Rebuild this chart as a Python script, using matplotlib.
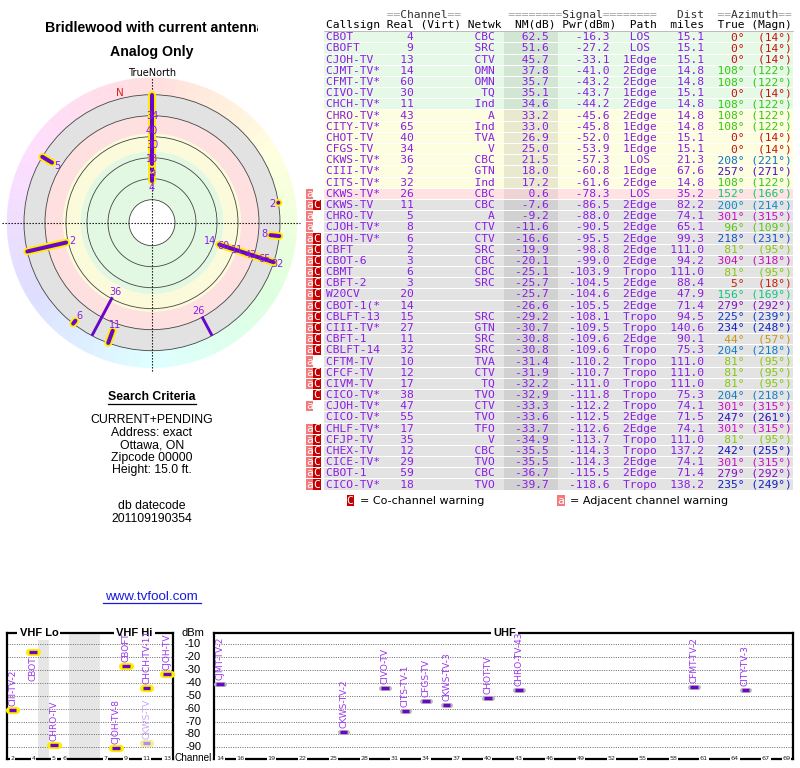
import colorsys
from collections import defaultdict
import numpy as np
import matplotlib
matplotlib.use("Agg")
import matplotlib.pyplot as plt
import matplotlib.transforms as mtransforms
import matplotlib.patheffects as pe
from matplotlib.patches import Rectangle, Wedge, Circle

# ---------------- data ----------------
callsigns = ["CBOT", "CBOFT", "CJOH-TV", "CJMT-TV*", "CFMT-TV*", "CIVO-TV", "CHCH-TV*",
             "CHRO-TV*", "CITY-TV*", "CHOT-TV", "CFGS-TV", "CKWS-TV*", "CIII-TV*", "CITS-TV*",
             "CKWS-TV*", "CKWS-TV", "CHRO-TV", "CJOH-TV*", "CJOH-TV*", "CBFT", "CBOT-6", "CBMT",
             "CBFT-2", "W20CV", "CBOT-1(*", "CBLFT-13", "CIII-TV*", "CBFT-1", "CBLFT-14",
             "CFTM-TV", "CFCF-TV", "CIVM-TV", "CICO-TV*", "CJOH-TV*", "CICO-TV*", "CHLF-TV*",
             "CFJP-TV", "CHEX-TV", "CICE-TV*", "CBOT-1", "CICO-TV*"]
channels = [4, 9, 13, 14, 60, 30, 11, 43, 65, 40, 34, 36, 2, 32, 26, 11, 5, 8, 6, 2, 3, 6, 3,
            20, 14, 15, 27, 11, 32, 10, 12, 17, 38, 47, 55, 17, 35, 12, 29, 59, 18]
networks = ["CBC", "SRC", "CTV", "OMN", "OMN", "TQ", "Ind", "A", "Ind", "TVA", "V", "CBC", "GTN",
            "Ind", "CBC", "CBC", "A", "CTV", "CTV", "SRC", "CBC", "CBC", "SRC", "", "", "SRC",
            "GTN", "SRC", "SRC", "TVA", "CTV", "TQ", "TVO", "CTV", "TVO", "TFO", "V", "CBC",
            "TVO", "CBC", "TVO"]
nm_db = [62.5, 51.6, 45.7, 37.8, 35.7, 35.1, 34.6, 33.2, 33.0, 26.9, 25.0, 21.5, 18.0, 17.2, 0.6,
         -7.6, -9.2, -11.6, -16.6, -19.9, -20.1, -25.1, -25.7, -25.7, -26.6, -29.2, -30.7, -30.8,
         -30.8, -31.4, -31.9, -32.2, -32.9, -33.3, -33.6, -33.7, -34.9, -35.5, -35.5, -36.7, -39.7]
pwr_dbm = [-16.3, -27.2, -33.1, -41.0, -43.2, -43.7, -44.2, -45.6, -45.8, -52.0, -53.9, -57.3,
           -60.8, -61.6, -78.3, -86.5, -88.0, -90.5, -95.5, -98.8, -99.0, -103.9, -104.5, -104.6,
           -105.5, -108.1, -109.5, -109.6, -109.6, -110.2, -110.7, -111.0, -111.8, -112.2, -112.5,
           -112.6, -113.7, -114.3, -114.3, -115.5, -118.6]
paths = ["LOS", "LOS", "1Edge", "2Edge", "2Edge", "1Edge", "2Edge", "2Edge", "1Edge", "1Edge",
         "1Edge", "LOS", "1Edge", "2Edge", "LOS", "2Edge", "2Edge", "2Edge", "2Edge", "2Edge",
         "2Edge", "Tropo", "2Edge", "2Edge", "2Edge", "Tropo", "Tropo", "2Edge", "Tropo", "Tropo",
         "Tropo", "Tropo", "Tropo", "Tropo", "2Edge", "2Edge", "Tropo", "Tropo", "2Edge", "2Edge",
         "Tropo"]
dist_miles = [15.1, 15.1, 15.1, 14.8, 14.8, 15.1, 14.8, 14.8, 14.8, 15.1, 15.1, 21.3, 67.6, 14.8,
              35.2, 82.2, 74.1, 65.1, 99.3, 111.0, 94.2, 111.0, 88.4, 47.9, 71.4, 94.5, 140.6,
              90.1, 75.3, 111.0, 111.0, 111.0, 75.3, 74.1, 71.5, 74.1, 111.0, 137.2, 74.1, 71.4,
              138.2]
az_true = [0, 0, 0, 108, 108, 0, 108, 108, 108, 0, 0, 208, 257, 108, 152, 200, 301, 96, 218, 81,
           304, 81, 5, 156, 279, 225, 234, 44, 204, 81, 81, 81, 204, 301, 247, 301, 81, 242, 301,
           279, 235]
az_magn = [14, 14, 14, 122, 122, 14, 122, 122, 122, 14, 14, 221, 271, 122, 166, 214, 315, 109,
           231, 95, 318, 95, 18, 169, 292, 239, 248, 57, 218, 95, 95, 95, 218, 315, 261, 315, 95,
           255, 315, 292, 249]
warnings = [""] * 14 + ["a", "aC", "a", "a", "aC", "aC",
                        "aC", "aC", "aC", "aC", "aC", "aC", "aC", "aC", "aC",
                        "a", "aC", "aC", "C", "a", "",
                        "aC", "aC", "aC", "aC", "aC", "aC"]
spectrum_names = ["CBOT", "CBOFT", "CJOH-TV", "CJMT-TV-2", "CFMT-TV-2", "CIVO-TV", "CHCH-TV-11",
                  "CHRO-TV-43", "CITY-TV-3", "CHOT-TV", "CFGS-TV", "CKWS-TV-3", "CIII-TV-2",
                  "CITS-TV-1", "CKWS-TV-2", "CKWS-TV", "CHRO-TV", "CJOH-TV-8"]
vhf_ticks = [2, 4, 5, 6, 7, 9, 11, 13]
uhf_ticks = [14, 16, 19, 22, 25, 28, 31, 34, 37, 40, 43, 46, 49, 52, 55, 58, 61, 64, 67, 69]
dbm_ticks = [-10, -20, -30, -40, -50, -60, -70, -80, -90]
polar_grid_nm = [60, 40, 20, 0, -20]
title_lines = ["Bridlewood with current antenna", "Analog Only"]
search_lines = ["CURRENT+PENDING", "Address: exact", "Ottawa, ON", "Zipcode 00000",
                "Height: 15.0 ft."]
datecode_lines = ["db datecode", "201109190354"]

POLAR_MIN_NM = -20.0
SPECTRUM_MIN_NM = -12.0

# ---------------- style ----------------
W, H = 800, 768
PURPLE = "#8a1ee6"
LINE_PURPLE = "#6a06c8"
YELLOW = "#ffee00"
MONO = "DejaVu Sans Mono"
SANS = "Liberation Sans"


def category(nm):
    if nm >= 34:
        return 0
    if nm >= 17:
        return 1
    if nm >= 0:
        return 2
    return 3


ROW_BG = ["#e6f8e6", "#fdfde0", "#ffe3e3", "#e3e3e3"]
NM_BG = ["#d3e6d3", "#e9e9d0", "#eed4d4", "#d1d1d1"]
POLAR_BG = ["#e2f8e2", "#fbfbdc", "#ffe0e0", "#e2e2e2"]


def box(x0, y0, x1, y1):
    return [x0 / W, (H - y1) / H, (x1 - x0) / W, (y1 - y0) / H]


def az_color(a):
    return colorsys.hsv_to_rgb((a % 360) / 360.0, 0.92, 0.78)


fig = plt.figure(figsize=(8, 7.68), dpi=100)
n = len(callsigns)

# ---------------- polar plot ----------------
axP = fig.add_axes(box(2, 72.7, 302, 372.7))
axP.set_xlim(-150, 150)
axP.set_ylim(-150, 150)
axP.axis("off")


def nm_to_r(nm):
    return float(np.clip(107 - 1.05 * nm, 23, 128))


def polar_xy(r, az):
    a = np.deg2rad(az)
    return r * np.sin(a), r * np.cos(a)


R_OUT = nm_to_r(POLAR_MIN_NM)
step = 5
for a in range(0, 360, step):
    col = colorsys.hsv_to_rgb((a + step / 2) / 360.0, 0.13, 1.0)
    axP.add_patch(Wedge((0, 0), 145, 90 - a - step, 90 - a, width=145 - R_OUT,
                        fc=col, ec=col, lw=0.3))
for nm_edge, c in zip([POLAR_MIN_NM, 0, 17, 34], POLAR_BG[::-1]):
    axP.add_patch(Circle((0, 0), nm_to_r(nm_edge), fc=c, ec="none"))
axP.add_patch(Circle((0, 0), nm_to_r(80), fc="white", ec="#404040", lw=0.6))
for g in polar_grid_nm:
    axP.add_patch(Circle((0, 0), nm_to_r(g), fill=False, ec="#454545", lw=0.6))
axP.plot([-150, 148], [0, 0], color="k", lw=0.8, ls=(0, (1.2, 1.5)), zorder=2)
axP.plot([0, 0], [-148, 146], color="k", lw=0.8, ls=(0, (1.2, 1.5)), zorder=2)

polar_idx = [i for i in range(n) if nm_db[i] >= POLAR_MIN_NM]
uhf_first = sorted(polar_idx, key=lambda i: (channels[i] <= 13, -nm_db[i]))
for i in uhf_first:
    r0 = nm_to_r(nm_db[i])
    x0, y0 = polar_xy(r0, az_true[i])
    x1, y1 = polar_xy(R_OUT, az_true[i])
    if channels[i] <= 13:
        axP.plot([x0, x1], [y0, y1], color=LINE_PURPLE, lw=2.9, solid_capstyle="round",
                 path_effects=[pe.Stroke(linewidth=5.6, foreground=YELLOW, capstyle="round"),
                               pe.Normal()], zorder=4)
    else:
        axP.plot([x0, x1], [y0, y1], color=LINE_PURPLE, lw=2.1, solid_capstyle="butt", zorder=3)

groups = defaultdict(list)
for i in polar_idx:
    groups[az_true[i]].append(i)
for az, idxs in groups.items():
    idxs.sort(key=lambda i: -nm_db[i])
    prev = -1e9
    for i in idxs:
        rl = max(nm_to_r(nm_db[i]) - 6.5, prev + 14.3)
        prev = rl
        x, y = polar_xy(rl, az)
        axP.text(x, y, str(channels[i]), color=PURPLE, fontsize=7, ha="center", va="center",
                 zorder=6, clip_on=False)

decl = az_magn[0] - az_true[0]
nx, ny = polar_xy(134, -decl)
axP.text(nx, ny, "N", color="#e02020", fontsize=7.5, ha="center", va="center", zorder=6)

# ---------------- spectrum panels ----------------
def vhf_slot(ch):
    if ch <= 4:
        return ch - 2
    if ch <= 6:
        return ch - 1
    return ch + 2


axV = fig.add_axes(box(7, 633.3, 173, 759))
axU = fig.add_axes(box(214, 633.3, 792.7, 759))
axV.set_xlim(-0.55, 15.56)
axU.set_xlim(13.42, 69.6)
for ax in (axV, axU):
    ax.set_ylim(-99.1, -1.45)
    ax.set_xticks([])
    ax.set_yticks([])
    for s in ax.spines.values():
        s.set_linewidth(1.6)
        s.set_color("black")
    for v in dbm_ticks:
        ax.axhline(v, color="#6a6a6a", lw=0.7, ls=(0, (1, 1.4)), zorder=1)
axV.axvspan(vhf_slot(4) + 0.5, vhf_slot(5) - 0.5, color="#e6e6e6", zorder=0, lw=0)
axV.axvspan(vhf_slot(6) + 0.5, vhf_slot(7) - 0.5, color="#e6e6e6", zorder=0, lw=0)

for ch in vhf_ticks:
    axV.text(vhf_slot(ch), 0, str(ch), transform=axV.get_xaxis_transform(), ha="center",
             va="center", fontsize=4.6, color="#222222", zorder=6, clip_on=False,
             bbox=dict(fc="white", ec="none", pad=0.5))
for ch in uhf_ticks:
    axU.text(ch, 0, str(ch), transform=axU.get_xaxis_transform(), ha="center",
             va="center", fontsize=4.6, color="#222222", zorder=6, clip_on=False,
             bbox=dict(fc="white", ec="none", pad=0.5))

for ax, xc, lab in ((axV, 2.55, "VHF Lo"), (axV, 11.8, "VHF Hi"), (axU, 41.6, "UHF")):
    ax.text(xc, 1, lab, transform=ax.get_xaxis_transform(), ha="center", va="center",
            fontsize=8, fontweight="bold", family=SANS, zorder=3, clip_on=False,
            bbox=dict(fc="white", ec="none", pad=1.5))

spec_idx = [i for i in range(n) if nm_db[i] >= SPECTRUM_MIN_NM]
spec_labels = []
for k, i in enumerate(spec_idx):
    ch = channels[i]
    vhf = ch <= 13
    ax = axV if vhf else axU
    x = vhf_slot(ch) if vhf else ch
    faded = any(channels[j] == ch and pwr_dbm[j] > pwr_dbm[i] for j in spec_idx)
    bar_col = "#b58ce8" if faded else "#6a06c8"
    lab_col = "#c9a6f2" if faded else "#9a36ee"
    if vhf:
        outline = "#f2ee9a" if faded else YELLOW
        ow = 5.2
    else:
        outline = "#b8b8b8"
        ow = 3.6
    ax.plot([x - 0.37, x + 0.37], [pwr_dbm[i], pwr_dbm[i]], color=bar_col, lw=2.4,
            solid_capstyle="butt", zorder=4, clip_on=False,
            path_effects=[pe.Stroke(linewidth=ow, foreground=outline, capstyle="round"),
                          pe.Normal()])
    ann = ax.annotate(spectrum_names[k], (x, pwr_dbm[i]), xytext=(0, 4),
                      textcoords="offset pixels", rotation=90, ha="center", va="bottom",
                      fontsize=6.5, color=lab_col, zorder=5)
    spec_labels.append((ax, ann))

# labels that would stick out far above the panel go below their bar
renderer = fig.canvas.get_renderer()
for ax, ann in spec_labels:
    bb = ann.get_window_extent(renderer)
    top = ax.get_window_extent(renderer).y1
    if bb.y1 > top + 7:
        ann.xyann = (0, -4)
        ann.set_va("top")

# ---------------- overlay (text, table) ----------------
ax0 = fig.add_axes([0, 0, 1, 1])
ax0.set_xlim(0, W)
ax0.set_ylim(H, 0)
ax0.axis("off")

# titles
t = ax0.text(45, 28, title_lines[0], fontsize=10.2, fontweight="bold", family=SANS,
             ha="left", va="center", clip_on=True)
t.set_clip_path(Rectangle((0, 0), 257.5, H, transform=ax0.transData))
ax0.text(151.5, 52, title_lines[1], fontsize=10.2, fontweight="bold", family=SANS,
         ha="center", va="center")
ax0.text(152, 73, "TrueNorth", fontsize=7, ha="center", va="center")

# search criteria
ax0.text(151.7, 397, "Search Criteria", fontsize=8.8, fontweight="bold", family=SANS,
         ha="center", va="center")
ax0.plot([108, 195.5], [403.8, 403.8], color="black", lw=0.9)
for k, s in enumerate(search_lines):
    ax0.text(151.7, 420 + 12.5 * k, s, fontsize=8.8, family=SANS, ha="center", va="center")
for k, s in enumerate(datecode_lines):
    ax0.text(151.7, 506 + 12.5 * k, s, fontsize=8.8, family=SANS, ha="center", va="center")
ax0.text(151.7, 597, "www.tvfool.com", fontsize=9.6, family=SANS, color="#1a1ae0",
         ha="center", va="center")
ax0.plot([102.5, 201], [603, 603], color="#1a1ae0", lw=0.9)

# table
X0 = 326.0
CW = 6.75
FS = 8.07
ROW0 = 37.3
RH = 11.18
h1 = (" " * 9 + "==Channel==" + " " * 7 + "========Signal========" + " " * 3 + "Dist" + "  "
      + "==Azimuth==")
h1_eq = "".join(c if c == "=" else " " for c in h1)
h1_words = "".join(" " if c == "=" else c for c in h1)
ax0.text(X0, 14.5, h1_eq, family=MONO, fontsize=FS, color="#a0a0a0", ha="left", va="center")
ax0.text(X0, 14.5, h1_words, family=MONO, fontsize=FS, color="#303030", ha="left", va="center")
h2 = "Callsign Real (Virt) Netwk  NM(dB) Pwr(dBm)  Path  miles  True (Magn)"
ax0.text(X0, 25.5, h2, family=MONO, fontsize=FS, color="black", ha="left", va="center")
ax0.plot([324, 793], [31.2, 31.2], color="#b0b0b0", lw=0.6)

for i in range(n):
    yc = ROW0 + RH * i
    cat = category(nm_db[i])
    ax0.add_patch(Rectangle((324, yc - 5.1), 469, 10.2, fc=ROW_BG[cat], ec="none", zorder=1))
    ax0.add_patch(Rectangle((504, yc - 5.1), 54, 10.2, fc=NM_BG[cat], ec="none", zorder=1))
    left = (callsigns[i].ljust(9) + str(channels[i]).rjust(4) + " " * 8 + networks[i].rjust(4)
            + f"{nm_db[i]:.1f}".rjust(8) + f"{pwr_dbm[i]:.1f}".rjust(9) + "  "
            + paths[i].center(5) + f"{dist_miles[i]:.1f}".rjust(7))
    right = f"{az_true[i]}°".rjust(6) + f"({az_magn[i]}°)".rjust(7)
    ax0.text(X0, yc, left, family=MONO, fontsize=FS, color=PURPLE, ha="left", va="center",
             zorder=3)
    ax0.text(X0 + 56 * CW, yc, right, family=MONO, fontsize=FS, color=az_color(az_true[i]),
             ha="left", va="center", zorder=3)
    if "a" in warnings[i]:
        ax0.add_patch(Rectangle((306, yc - 5.1), 7, 10.2, fc="#f27a7a", ec="none", zorder=2))
        ax0.text(309.5, yc, "a", family=MONO, fontsize=FS, color="white", ha="center",
                 va="center", zorder=3)
    if "C" in warnings[i]:
        ax0.add_patch(Rectangle((313, yc - 5.1), 7.5, 10.2, fc="#c40000", ec="none", zorder=2))
        ax0.text(316.7, yc, "C", family=MONO, fontsize=FS, color="white", ha="center",
                 va="center", zorder=3)

# legend for warnings
ly = 500.5
ax0.add_patch(Rectangle((346.5, ly - 5.3), 7.2, 10.6, fc="#c40000", ec="none"))
ax0.text(350.1, ly, "C", family=MONO, fontsize=FS, color="white", ha="center", va="center")
ax0.text(360, ly, "= Co-channel warning", fontsize=8, ha="left", va="center")
ax0.add_patch(Rectangle((557, ly - 5.3), 7.5, 10.6, fc="#f27a7a", ec="none"))
ax0.text(560.7, ly, "a", family=MONO, fontsize=FS, color="white", ha="center", va="center")
ax0.text(570.5, ly, "= Adjacent channel warning", fontsize=8, ha="left", va="center")

# dBm scale between spectrum panels
tr = mtransforms.blended_transform_factory(ax0.transData, axU.transData)
for v in dbm_ticks:
    ax0.text(193, v, str(v), transform=tr, fontsize=8, family=SANS, ha="center", va="center")
ax0.text(193, 633, "dBm", fontsize=8, family=SANS, ha="center", va="center")
ax0.text(193.5, 758, "Channel", fontsize=7.2, family=SANS, ha="center", va="center")

fig.savefig("out.png", dpi=100)
